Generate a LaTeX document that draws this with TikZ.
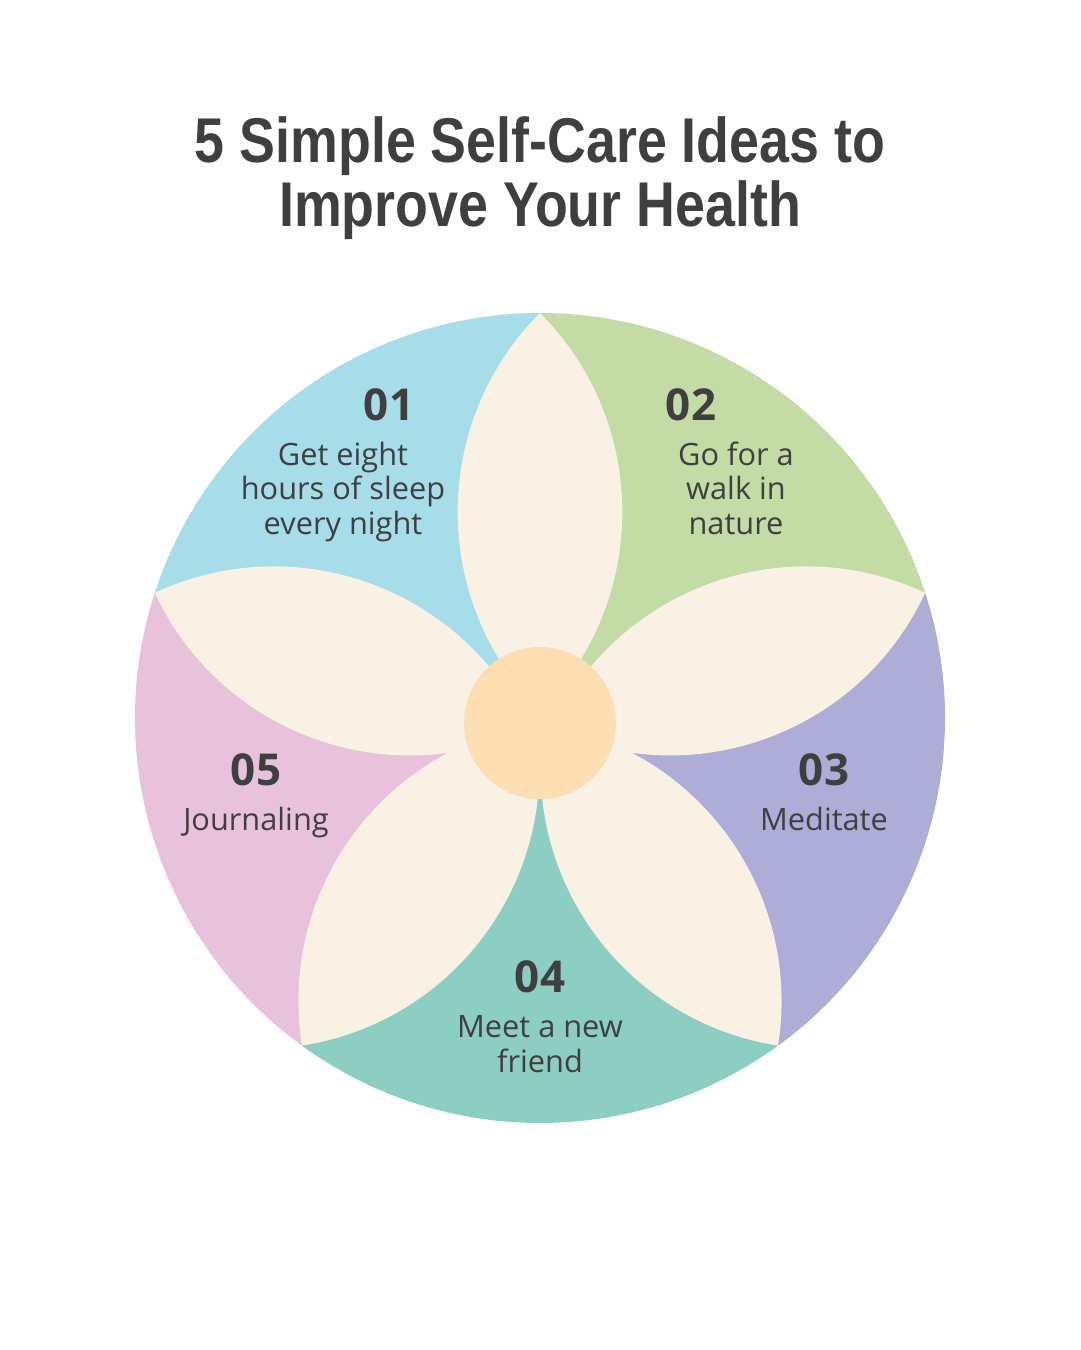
\documentclass[tikz,border=0pt]{standalone}
\usepackage{fontspec}
\setmainfont{Open Sans}
\newfontfamily\titlefont[FakeStretch=0.85]{Liberation Sans}
\definecolor{inkgray}{HTML}{3F3F3F}
\definecolor{sleepblue}{HTML}{A6DDE9}
\definecolor{walkgreen}{HTML}{C3DBA5}
\definecolor{calmpurple}{HTML}{ADADD8}
\definecolor{friendteal}{HTML}{8CCFC2}
\definecolor{journalpink}{HTML}{E7C2DA}
\definecolor{petalcream}{HTML}{F9F2E4}
\definecolor{budpeach}{HTML}{FCDEB2}

\begin{document}
\begin{tikzpicture}[
  x=0.02cm, y=0.02cm,
  petal/.style={fill=petalcream},
  num/.style={font=\fontsize{25}{30}\selectfont\bfseries, text=inkgray, anchor=base, inner sep=0pt},
  idea/.style={font=\fontsize{17.5}{19.6}\selectfont, text=inkgray, align=center, anchor=base, inner sep=0pt}
]
\fill[white] (-540,-632) rectangle (540,718);
\useasboundingbox (-540,-632) rectangle (540,718);

\node[font=\titlefont\fontsize{36}{36.9}\selectfont\bfseries, text=inkgray, align=center, anchor=base, inner sep=0pt]
  (title) at (0,491) {5 Simple Self-Care Ideas to\\Improve Your Health};

\fill[sleepblue]   (0,0) -- (90:405)   arc[start angle=90,   end angle=162,  radius=405] -- cycle;
\fill[walkgreen]   (0,0) -- (18:405)   arc[start angle=18,   end angle=90,   radius=405] -- cycle;
\fill[calmpurple]  (0,0) -- (-54:405)  arc[start angle=-54,  end angle=18,   radius=405] -- cycle;
\fill[friendteal]  (0,0) -- (-126:405) arc[start angle=-126, end angle=-54,  radius=405] -- cycle;
\fill[journalpink] (0,0) -- (162:405)  arc[start angle=162,  end angle=234,  radius=405] -- cycle;

\fill[petal] (90:405)   to[bend left=45] ++(270:398) to[bend left=45] (90:405);
\fill[petal] (18:405)   to[bend left=45] ++(200:398) to[bend left=45] (18:405);
\fill[petal] (-54:405)  to[bend left=45] ++(126:398) to[bend left=45] (-54:405);
\fill[petal] (-126:405) to[bend left=45] ++(54:398)  to[bend left=45] (-126:405);
\fill[petal] (162:405)  to[bend left=45] ++(-20:398) to[bend left=45] (162:405);

\fill[budpeach] (0,-5) circle[radius=76];

\node[num]  (n01) at (-151,298) {01};
\node[idea] (t01) at (-197,184) {Get eight\\hours of sleep\\every night};
\node[num]  (n02) at (151,298) {02};
\node[idea] (t02) at (196,184) {Go for a\\walk in\\nature};
\node[num]  (n03) at (284,-67) {03};
\node[idea] (t03) at (284,-112) {Meditate};
\node[num]  (n04) at (0,-274) {04};
\node[idea] (t04) at (0,-354) {Meet a new\\friend};
\node[num]  (n05) at (-284,-67) {05};
\node[idea] (t05) at (-284,-112) {Journaling};
\end{tikzpicture}
\end{document}
